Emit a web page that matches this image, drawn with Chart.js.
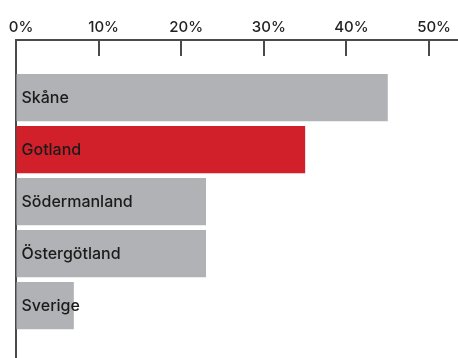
<!DOCTYPE html>
<html>
<head>
<meta charset="utf-8">
<script src="https://cdn.jsdelivr.net/npm/chart.js@4"></script>
<style>
  html, body { margin: 0; padding: 0; background: #fff; }
  #wrap { width: 458px; height: 358px; }
</style>
</head>
<body>
<div id="wrap"><canvas id="chart"></canvas></div>
<script>
const regions = ['Skåne', 'Gotland', 'Södermanland', 'Östergötland', 'Sverige'];
const shares = [45, 35, 23, 23, 7];
const barColors = ['#b1b2b5', '#d2202a', '#b1b2b5', '#b1b2b5', '#b1b2b5'];
const xTicks = [0, 10, 20, 30, 40, 50];

const axisColor = '#4a4a4a';

// short tick marks hanging below the top axis line
const innerTicks = {
  id: 'innerTicks',
  afterDraw(chart) {
    const ctx = chart.ctx;
    const x = chart.scales.x;
    const top = chart.chartArea.top;
    ctx.save();
    ctx.strokeStyle = axisColor;
    ctx.lineWidth = 2;
    xTicks.forEach(t => {
      const px = Math.round(x.getPixelForValue(t));
      ctx.beginPath();
      ctx.moveTo(px, top);
      ctx.lineTo(px, top + 16);
      ctx.stroke();
    });
    ctx.restore();
  }
};

// region names written inside the bars
const barLabels = {
  id: 'barLabels',
  afterDatasetsDraw(chart) {
    const ctx = chart.ctx;
    const meta = chart.getDatasetMeta(0);
    ctx.save();
    ctx.font = '500 16px Inter, "Noto Sans", sans-serif';
    ctx.fillStyle = '#1b1b1b';
    ctx.textBaseline = 'middle';
    meta.data.forEach((bar, i) => {
      ctx.fillText(regions[i], bar.base + 5, bar.y + 1);
    });
    ctx.restore();
  }
};

new Chart(document.getElementById('chart'), {
  type: 'bar',
  data: {
    datasets: [{
      data: shares.map((v, i) => ({ x: v, y: i })),
      backgroundColor: barColors,
      borderWidth: 0,
      categoryPercentage: 1,
      barPercentage: 0.91
    }]
  },
  options: {
    indexAxis: 'y',
    responsive: true,
    maintainAspectRatio: false,
    animation: false,
    layout: { padding: { left: 16, right: 0, top: 14, bottom: 0 } },
    plugins: { legend: { display: false }, tooltip: { enabled: false } },
    scales: {
      x: {
        position: 'top',
        min: 0,
        max: 53.5,
        afterBuildTicks: axis => { axis.ticks = xTicks.map(v => ({ value: v })); },
        afterFit: axis => { axis.paddingLeft = 0; axis.paddingRight = 0; },
        ticks: {
          callback: v => v + '%',
          color: '#222',
          font: { family: 'Inter, "Noto Sans", sans-serif', size: 15, weight: '500' },
          padding: 4,
          labelOffset: 5,
          maxRotation: 0
        },
        grid: { drawOnChartArea: false, drawTicks: false },
        border: { color: axisColor, width: 2 }
      },
      y: {
        type: 'linear',
        reverse: true,
        offset: false,
        min: -1.11,
        max: 5.01,
        ticks: { display: false },
        grid: { display: false, drawTicks: false, offset: false },
        border: { color: axisColor, width: 2 }
      }
    }
  },
  plugins: [innerTicks, barLabels]
});
</script>
</body>
</html>
